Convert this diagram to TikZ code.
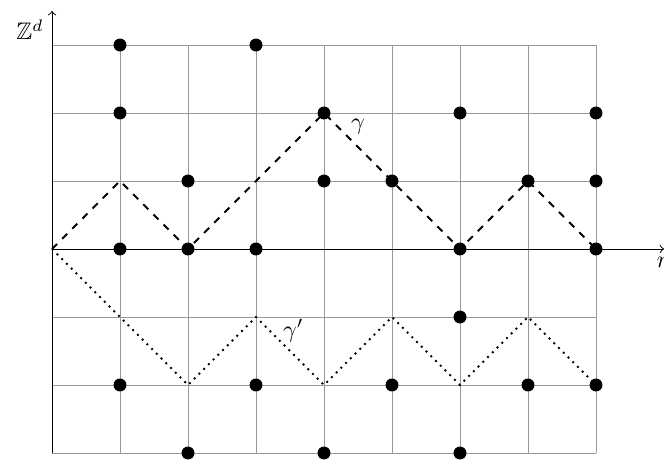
\documentclass[tikz,border=0pt]{standalone}
\usepackage{amsmath,amssymb}
\usetikzlibrary{positioning}

\begin{document}
\begin{tikzpicture}[
  dot/.style={circle, fill=black, inner sep=0pt, minimum size=0.19cm},
  walk/.style={thick, dashed},
  walkb/.style={thick, dotted},
  x=1cm, y=1cm
]
  \useasboundingbox (-0.765,-3.103) rectangle (9.0,3.662);
  \draw[gray!80] (0,-3) grid (8,3);

  \coordinate (o) at (0,0);
  \coordinate (xe) at (9,0);
  \coordinate (yb) at (0,-3);
  \coordinate (ye) at (0,3.5);
  \draw[->] (o) -- (xe) node[below] {$n$};
  \draw[->] (yb) -- (ye) node[below left] {$\mathbb{Z}^d$};

  \foreach \i/\x/\y in {1/1/3, 2/3/3,
                        3/1/2, 4/4/2, 5/6/2, 6/8/2,
                        7/2/1, 8/4/1, 9/5/1, 10/7/1, 11/8/1,
                        12/1/0, 13/2/0, 14/3/0, 15/6/0, 16/8/0,
                        17/6/-1,
                        18/1/-2, 19/3/-2, 20/5/-2, 21/7/-2, 22/8/-2,
                        23/2/-3, 24/4/-3, 25/6/-3}
    \node[dot] (d\i) at (\x,\y) {};

  % gamma
  \coordinate (g1) at (1,1);
  \coordinate (g2) at (2,0);
  \coordinate (g3) at (4,2);
  \coordinate (g4) at (6,0);
  \coordinate (g5) at (7,1);
  \coordinate (g6) at (8,0);
  \draw[walk] (o) -- (g1) -- (g2) -- (g3) -- (g4) -- (g5) -- (g6);
  \node[draw=none] (gl) at (4.5,1.8) {$\gamma$};

  % gamma'
  \coordinate (h1) at (2,-2);
  \coordinate (h2) at (3,-1);
  \coordinate (h3) at (4,-2);
  \coordinate (h4) at (5,-1);
  \coordinate (h5) at (6,-2);
  \coordinate (h6) at (7,-1);
  \coordinate (h7) at (8,-2);
  \draw[walkb] (o) -- (h1) -- (h2) -- (h3) -- (h4) -- (h5) -- (h6) -- (h7);
  \node[draw=none] (hl) at (3.55,-1.2) {$\gamma'$};
\end{tikzpicture}
\end{document}
